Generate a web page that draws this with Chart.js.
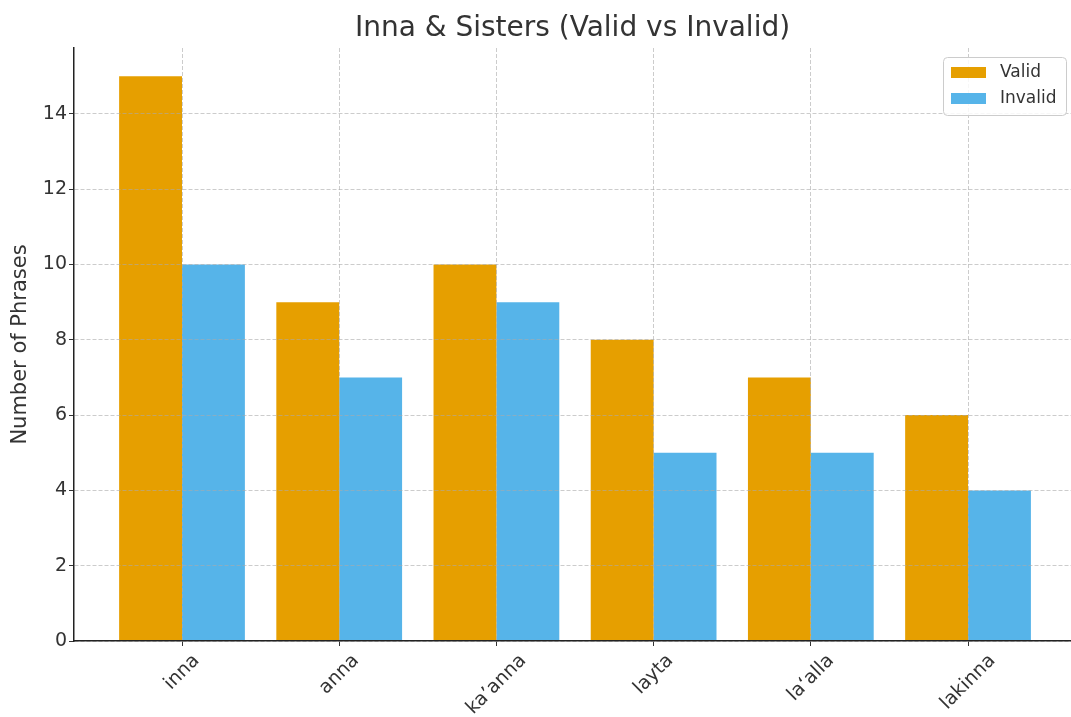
<!DOCTYPE html>
<html>
<head>
<meta charset="utf-8">
<script src="https://cdn.jsdelivr.net/npm/chart.js@4/dist/chart.umd.min.js"></script>
<style>
  body { margin: 0; background: #fff; }
  canvas { display: block; }
</style>
</head>
<body>
<canvas id="sisters" width="1071" height="717"></canvas>
<script>
// data
const categories = ["inna", "anna", "ka’anna", "layta", "la‘alla", "lakinna"]
const validCounts = [15, 9, 10, 8, 7, 6]
const invalidCounts = [10, 7, 9, 5, 5, 4]
const yTicks = [0, 2, 4, 6, 8, 10, 12, 14]

const textColor = '#333333'
const fontFamily = '"DejaVu Sans", sans-serif'

// rotated category labels, centred under each group like matplotlib does it
const xLabelsPlugin = {
    id: 'xLabels',
    afterDraw(chart) {
        const ctx = chart.ctx
        const xScale = chart.scales.x
        ctx.save()
        ctx.font = '19px ' + fontFamily
        ctx.fillStyle = textColor
        ctx.textAlign = 'center'
        ctx.textBaseline = 'middle'
        for (let i = 0; i < categories.length; i++) {
            const px = xScale.getPixelForValue(i)
            const w = ctx.measureText(categories[i]).width
            const half = (w + 22) * Math.SQRT1_2 / 2
            ctx.save()
            ctx.translate(px, chart.chartArea.bottom + 9 + half)
            ctx.rotate(-Math.PI / 4)
            ctx.fillText(categories[i], 0, 0)
            ctx.restore()
        }
        ctx.restore()
    }
}

// legend box inside the plot, top right
const legendPlugin = {
    id: 'boxLegend',
    afterDraw(chart) {
        const ctx = chart.ctx
        const x = 943, y = 57, w = 123, h = 58
        ctx.save()
        ctx.beginPath()
        ctx.roundRect(x + 0.5, y + 0.5, w, h, 4)
        ctx.fillStyle = 'rgba(255,255,255,0.85)'
        ctx.fill()
        ctx.strokeStyle = '#cccccc'
        ctx.lineWidth = 1
        ctx.stroke()
        ctx.font = '17px ' + fontFamily
        ctx.textBaseline = 'middle'
        ctx.textAlign = 'left'
        chart.data.datasets.forEach((ds, i) => {
            const cy = 72.5 + i * 26
            ctx.fillStyle = ds.backgroundColor
            ctx.fillRect(951, cy - 5.5, 35, 11)
            ctx.fillStyle = textColor
            ctx.fillText(ds.label, 1000, cy)
        })
        ctx.restore()
    }
}

const ctx = document.getElementById('sisters').getContext('2d')
const chart = new Chart(ctx, {
    type: 'bar',
    data: {
        datasets: [
            {
                label: 'Valid',
                data: validCounts.map((v, i) => ({x: i, y: v})),
                backgroundColor: '#E69F00',
                borderWidth: 0
            },
            {
                label: 'Invalid',
                data: invalidCounts.map((v, i) => ({x: i, y: v})),
                backgroundColor: '#56B4E9',
                borderWidth: 0
            }
        ]
    },
    options: {
        responsive: false,
        animation: false,
        layout: { padding: 0 },
        datasets: {
            bar: { categoryPercentage: 0.8, barPercentage: 1.0 }
        },
        plugins: {
            legend: { display: false },
            tooltip: { enabled: false },
            title: {
                display: true,
                fullSize: false,
                text: 'Inna & Sisters (Valid vs Invalid)',
                color: textColor,
                font: { family: fontFamily, size: 28, weight: 'normal' },
                padding: { top: 12, bottom: 2.4 }
            }
        },
        scales: {
            x: {
                type: 'linear',
                offset: false,
                min: -0.687,
                max: 5.655,
                afterBuildTicks: (scale) => {
                    scale.ticks = categories.map((c, i) => ({value: i}))
                },
                afterFit: (scale) => { scale.height = 76 },
                ticks: { display: false },
                grid: {
                    offset: false,
                    z: 1,
                    color: 'rgba(170,170,170,0.6)',
                    lineWidth: 1,
                    tickLength: 5,
                    tickColor: textColor,
                    tickWidth: 1
                },
                border: { display: true, color: '#222222', width: 1.5, dash: [4, 2], z: 2 }
            },
            y: {
                min: 0,
                max: 15.75,
                afterBuildTicks: (scale) => {
                    scale.ticks = yTicks.map(v => ({value: v}))
                },
                afterFit: (scale) => { scale.width = 74 },
                ticks: {
                    color: textColor,
                    padding: 2,
                    font: { family: fontFamily, size: 19 }
                },
                grid: {
                    z: 1,
                    color: 'rgba(170,170,170,0.6)',
                    lineWidth: 1,
                    tickLength: 5,
                    tickColor: textColor,
                    tickWidth: 1
                },
                border: { display: true, color: '#222222', width: 1.5, dash: [4, 2], z: 2 },
                title: {
                    display: true,
                    text: 'Number of Phrases',
                    color: textColor,
                    font: { family: fontFamily, size: 21 },
                    padding: { top: 8, bottom: 0 }
                }
            }
        }
    },
    plugins: [xLabelsPlugin, legendPlugin]
})
</script>
</body>
</html>
